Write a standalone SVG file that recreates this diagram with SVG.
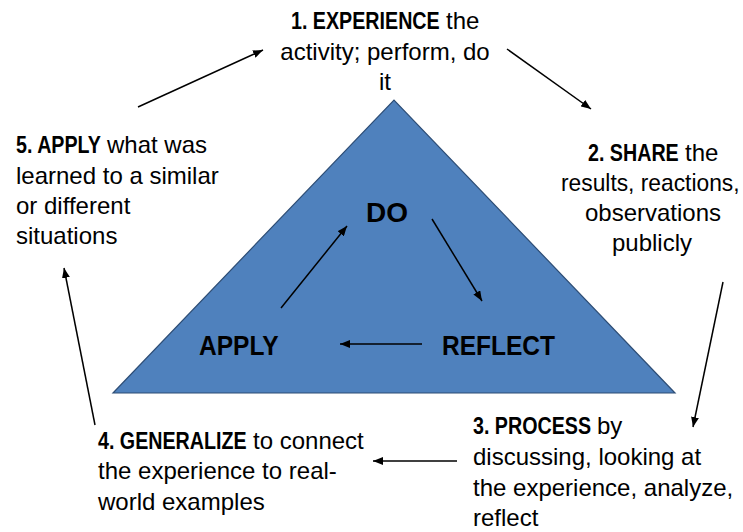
<svg xmlns="http://www.w3.org/2000/svg" width="743" height="532" viewBox="0 0 743 532">
<defs>
<marker id="ah" viewBox="0 0 10 8" refX="10" refY="4" markerWidth="10" markerHeight="8" markerUnits="userSpaceOnUse" orient="auto">
<path d="M0,0 L10,4 L0,8 z" fill="#000"/>
</marker>
</defs>
<style>
text{font-family:"Liberation Sans",Arial,sans-serif;fill:#000}
.r{font-size:24px}
.b{font-size:24px;font-weight:bold}
.big{font-size:28px;font-weight:bold}
.m{text-anchor:middle}
.c{stroke:#000;stroke-width:1.5;fill:none;marker-end:url(#ah)}
</style>
<rect width="743" height="532" fill="#fff"/>
<g id="triangle">
<polygon points="113,393 394,100 675,393" fill="#4f81bd" stroke="#2d4d75" stroke-width="1.2"/>
</g>
<g id="do"><text class="big" x="366" y="222">DO</text></g>
<g id="apply"><text class="big" transform="translate(199,355) scale(0.876,1)">APPLY</text></g>
<g id="reflect"><text class="big" transform="translate(442,355) scale(0.876,1)">REFLECT</text></g>
<g id="step1">
<text class="b" transform="translate(291,29) scale(0.82,1)">1. EXPERIENCE</text>
<text class="r" x="446" y="29">the</text>
<text class="r m" x="385" y="60">activity; perform, do</text>
<text class="r m" x="385" y="90">it</text>
</g>
<g id="step2">
<text class="b" transform="translate(588,161) scale(0.82,1)">2. SHARE</text>
<text class="r" x="685" y="161">the</text>
<text class="r" transform="translate(561,191) scale(0.95,1)">results, reactions,</text>
<text class="r m" x="653" y="221">observations</text>
<text class="r m" x="652" y="251">publicly</text>
</g>
<g id="step3">
<text class="b" transform="translate(473,434) scale(0.82,1)">3. PROCESS</text>
<text class="r" x="597" y="434">by</text>
<text class="r" x="473" y="465">discussing, looking at</text>
<text class="r" x="473" y="496">the experience, analyze,</text>
<text class="r" x="473" y="526">reflect</text>
</g>
<g id="step4">
<text class="b" transform="translate(98,449) scale(0.82,1)">4. GENERALIZE</text>
<text class="r" x="253" y="449">to connect</text>
<text class="r" x="98" y="479">the experience to real-</text>
<text class="r" x="98" y="510">world examples</text>
</g>
<g id="step5">
<text class="b" transform="translate(16,153) scale(0.82,1)">5. APPLY</text>
<text class="r" x="107" y="153">what was</text>
<text class="r" x="16" y="184">learned to a similar</text>
<text class="r" x="16" y="214">or different</text>
<text class="r" x="16" y="244">situations</text>
</g>
<g id="connectors">
<line class="c" x1="138" y1="107" x2="263" y2="50"/>
<line class="c" x1="507" y1="49" x2="591" y2="109"/>
<line class="c" x1="723" y1="282" x2="693" y2="427"/>
<line class="c" x1="457" y1="461" x2="373" y2="461"/>
<line class="c" x1="95" y1="425" x2="64" y2="268"/>
<line class="c" x1="281" y1="308" x2="347" y2="226"/>
<line class="c" x1="432" y1="219" x2="482" y2="301"/>
<line class="c" x1="422" y1="344" x2="340" y2="344"/>
</g>
</svg>
